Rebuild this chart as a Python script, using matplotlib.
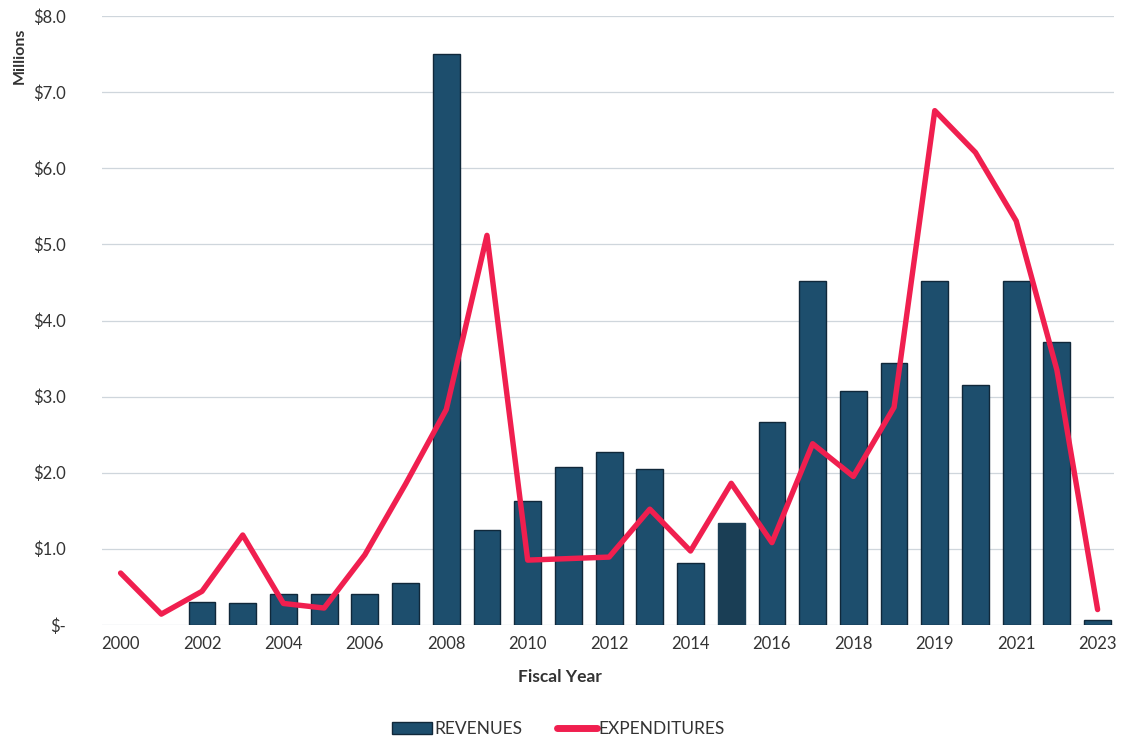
import matplotlib
matplotlib.use("Agg")
import matplotlib.pyplot as plt
from matplotlib.lines import Line2D
from matplotlib.patches import Patch
import numpy as np

# Fiscal year categories (25 reporting periods) and the labels shown on every other tick
periods = ["2000", "2001", "2002", "2003", "2004", "2005", "2006", "2007", "2008",
           "2009", "2010", "2011", "2012", "2013", "2014", "2015", "2016", "2017",
           "2018", "2018b", "2019", "2020", "2021", "2022", "2023"]
tick_labels = ["2000", "2002", "2004", "2006", "2008", "2010", "2012", "2014",
               "2016", "2018", "2019", "2021", "2023"]

# Values in millions of dollars
revenues = [0.0, 0.0, 0.30, 0.28, 0.40, 0.41, 0.41, 0.555, 7.50, 1.25, 1.63, 2.08,
            2.27, 2.05, 0.81, 1.34, 2.66, 4.52, 3.08, 3.44, 4.52, 3.15, 4.52, 3.72, 0.06]
expenditures = [0.68, 0.14, 0.44, 1.18, 0.28, 0.22, 0.92, 1.85, 2.83, 5.12, 0.85,
                0.87, 0.89, 1.52, 0.97, 1.86, 1.08, 2.38, 1.95, 2.86, 6.76, 6.21,
                5.31, 3.35, 0.20]
y_ticks = [0, 1, 2, 3, 4, 5, 6, 7, 8]

FONT = "Lato"
TXT = "#333333"
BAR = "#1d4e6d"
BAR_EDGE = "#10283a"
BAR_FLAT = "#1a3e55"
LINE = "#f01f4f"

fig = plt.figure(figsize=(11.24, 7.42), dpi=100)
ax = fig.add_axes([0.091, 0.158, 0.900, 0.820])

x = np.arange(len(periods))
bar_colors = [BAR] * len(periods)
edge_colors = [BAR_EDGE] * len(periods)
bar_colors[15] = BAR_FLAT
edge_colors[15] = BAR_FLAT
edge_widths = [1.0 if v > 0 else 0.0 for v in revenues]
ax.bar(x, revenues, width=0.66, color=bar_colors, edgecolor=edge_colors,
       linewidth=edge_widths, zorder=2)
ax.plot(x, expenditures, color=LINE, linewidth=3.9, solid_joinstyle="round",
        solid_capstyle="round", zorder=3)

ax.set_xlim(-0.45, 24.4)
ax.set_ylim(0, 8)
ax.set_yticks(y_ticks)
ax.set_yticklabels(["$-" if v == 0 else f"${v:.1f}" for v in y_ticks],
                   fontsize=12, color=TXT, family=FONT)
ax.set_xticks(x[::2])
ax.set_xticklabels(tick_labels, fontsize=12, color=TXT, family=FONT)
ax.tick_params(axis="both", length=0)
ax.tick_params(axis="y", pad=26)
ax.tick_params(axis="x", pad=8)

ax.grid(axis="y", color="#cfd6dc", linewidth=0.9, zorder=0)
ax.set_axisbelow(True)
for s in ax.spines.values():
    s.set_visible(False)

fig.text(0.018, 0.925, "Millions", rotation=90, ha="center", va="center",
         fontsize=11.5, fontweight="bold", color=TXT, family=FONT)
fig.text(0.498, 0.087, "Fiscal Year", ha="center", va="center",
         fontsize=12.5, fontweight="bold", color=TXT, family=FONT)

handles = [Patch(facecolor=BAR, edgecolor=BAR_EDGE, linewidth=1.0),
           Line2D([0], [0], color=LINE, linewidth=5, solid_capstyle="round")]
fig.legend(handles, ["REVENUES", "EXPENDITURES"], loc="center",
           bbox_to_anchor=(0.497, 0.017), ncol=2, frameon=False,
           prop={"family": FONT, "size": 12.5}, labelcolor=TXT,
           handlelength=2.3, handleheight=0.7, handletextpad=0.1,
           columnspacing=2.0)

fig.savefig("out.png", dpi=100, facecolor="white")
